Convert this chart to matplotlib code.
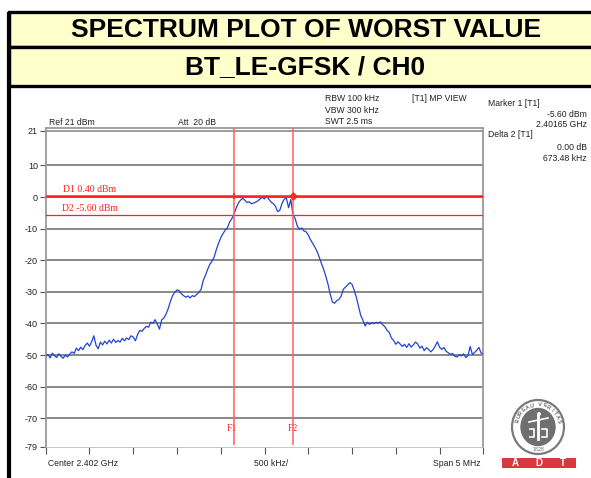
import numpy as np
import matplotlib.pyplot as plt
from matplotlib.patches import Rectangle, Ellipse

plt.rcParams['font.family'] = ['Liberation Sans', 'DejaVu Sans']

W, H = 591, 478

# sweep settings (MHz)
f_start = 2399.5
f_stop = 2404.5
f_center = 2402.0

# max-peak trace, 201 sweep points
level_dbm = [
    -50.3, -49.8, -50.9, -49.4, -50.2, -50.8, -49.6, -50.4, -51.0, -50.0,
    -50.6, -49.7, -49.0, -49.5, -47.8, -48.6, -47.5, -48.3, -47.0, -46.2,
    -47.2, -45.8, -43.9, -46.9, -48.0, -45.9, -46.8, -45.6, -46.5, -45.3,
    -46.2, -45.0, -46.0, -45.4, -45.9, -44.7, -45.5, -44.6, -45.1, -43.9,
    -44.3,
    -45.5, -43.5, -42.2, -42.5, -41.6, -40.9, -41.2, -39.6, -39.9, -38.8,
    -40.2, -41.8, -38.9, -38.3, -37.0, -35.3, -33.0, -31.2, -30.1, -29.4,
    -29.6, -30.6, -31.2, -31.7, -31.3, -31.9, -31.2, -31.5, -30.8, -30.2,
    -29.2, -26.4, -24.8, -22.9, -21.3, -20.3, -19.0, -16.6, -14.6, -12.9,
    -11.6, -10.5, -9.8, -8.0, -6.9, -5.6, -3.6, -2.0, -1.0, -0.4,
    -1.0, -1.7, -1.5, -2.1, -1.9, -1.6, -1.2, -0.6, -0.1, -0.6,
    0.4, -0.7, -1.6, -2.1, -2.9, -4.6, -4.2, -2.0, -0.7, -0.3,
    -3.4, -0.8, -5.6, -6.8, -9.2, -10.2, -9.8, -10.7, -11.0, -12.0,
    -13.5, -14.6, -15.8, -17.2, -19.0, -21.0, -22.8, -25.0, -27.5, -30.6,
    -33.2, -33.6, -32.8, -32.4, -31.4, -29.2, -28.5, -27.8, -27.1, -27.6,
    -29.5, -31.8, -34.6, -37.5, -39.0, -40.8, -39.6, -40.3, -39.7, -40.1,
    -39.6, -39.9, -39.5, -40.4, -41.0, -42.2, -42.8, -44.6, -45.4, -46.6,
    -45.8, -46.5, -47.3, -46.6, -47.6, -46.4, -47.5, -46.8, -45.9, -46.5,
    -47.8, -47.2, -48.6, -47.7, -48.2, -49.0, -48.3, -47.2, -45.8, -47.5,
    -48.2, -47.6, -48.8, -49.3, -49.8, -49.5, -50.4, -50.6, -49.9, -50.3,
    -49.6, -50.8, -50.2, -47.3, -49.8, -49.2, -48.5, -47.6, -49.4, -49.6,
]
freq = np.linspace(f_start, f_stop, len(level_dbm))

d1_level = 0.40
d2_level = -5.60
f1 = 2401.65
delta_khz = 673.48
f2 = f1 + delta_khz / 1000.0

y_ticks = [21, 10, 0, -10, -20, -30, -40, -50, -60, -70, -79]
grid_levels = [10, 0, -10, -20, -30, -40, -50, -60, -70]

title_1 = 'SPECTRUM PLOT OF WORST VALUE'
title_2 = 'BT_LE-GFSK / CH0'

fig = plt.figure(figsize=(W / 100, H / 100), dpi=100)

# page overlay in pixel coordinates
pg = fig.add_axes([0, 0, 1, 1])
pg.set_xlim(0, W)
pg.set_ylim(H, 0)
pg.axis('off')

yellow = '#ffffcc'
pg.add_patch(Rectangle((9, 12), W, 35, facecolor=yellow, edgecolor='black', lw=2.4))
pg.add_patch(Rectangle((9, 47), W, 38.5, facecolor=yellow, edgecolor='black', lw=2.4))
pg.plot([9, 9], [12, H], color='black', lw=3, solid_capstyle='butt')
pg.text(306, 30, title_1, ha='center', va='center', fontsize=19, fontweight='bold')
pg.text(305, 67, title_2, ha='center', va='center', fontsize=19, fontweight='bold')

small = dict(fontsize=6.2, color='#222222', va='center')
pg.text(49, 122.5, 'Ref 21 dBm', ha='left', **small)
pg.text(178, 122.5, 'Att  20 dB', ha='left', **small)
pg.text(65, 138.5, 'Offset 11 dB', ha='left', **small)
pg.text(325, 98.5, 'RBW 100 kHz', ha='left', **small)
pg.text(325, 110, 'VBW 300 kHz', ha='left', **small)
pg.text(325, 121.5, 'SWT 2.5 ms', ha='left', **small)
pg.text(412, 98.5, '[T1] MP VIEW', ha='left', **small)
pg.text(488, 103, 'Marker 1 [T1]', ha='left', **small)
pg.text(587, 114, '%.2f dBm' % d2_level, ha='right', **small)
pg.text(587, 124.5, '%.5f GHz' % (f1 / 1000), ha='right', **small)
pg.text(488, 134.5, 'Delta 2 [T1]', ha='left', **small)
pg.text(587, 147, '0.00 dB', ha='right', **small)
pg.text(587, 158.5, '%.2f kHz' % delta_khz, ha='right', **small)
pg.text(48.5, 463.5, 'Center %.3f GHz' % (f_center / 1000), ha='left', **small)
pg.text(253.5, 463.5, '500 kHz/', ha='left', **small)
pg.text(481, 463.5, 'Span 5 MHz', ha='right', **small)

# logo
cx, cy = 538, 427
pg.add_patch(Ellipse((cx, cy), 52, 54, facecolor='white', edgecolor='#7a7a7a', lw=1.6))
pg.add_patch(Ellipse((cx, cy), 34, 37, facecolor='#6f6f6f', edgecolor='#6f6f6f', lw=1))
pg.plot([cx, cx], [cy - 12, cy + 12], color='white', lw=2)
pg.add_patch(Ellipse((cx + 1, cy - 13), 4, 4, facecolor='white', edgecolor='none'))
pg.plot([cx - 9, cx + 10], [cy - 5, cy - 9], color='white', lw=1.2)
pg.plot([cx - 8, cx - 4, cx - 4, cx - 8], [cy + 2, cy + 2, cy + 10, cy + 10], color='white', lw=1.2)
pg.plot([cx + 4, cx + 9, cx + 9, cx + 4], [cy + 2, cy + 2, cy + 10, cy + 10], color='white', lw=1.2)
ring = 'BUREAU VERITAS'
for i, ch in enumerate(ring):
    a = np.deg2rad(165 - i * 150 / (len(ring) - 1))
    pg.text(cx + 21.5 * np.cos(a), cy - 22.5 * np.sin(a), ch, ha='center', va='center',
            fontsize=4, color='#6f6f6f', fontweight='bold',
            rotation=np.rad2deg(a) - 90)
pg.text(cx, cy + 22.5, '1828', ha='center', va='center', fontsize=3.8, color='#6f6f6f')
pg.add_patch(Rectangle((502, 458.3), 74, 9.4, facecolor='#d63a3f', edgecolor='none'))
for xl, ch in zip([515, 539, 563], 'ADT'):
    pg.text(xl, 463.2, ch, ha='center', va='center', fontsize=7, color='white', fontweight='bold')

# spectrum axes
ax = fig.add_axes([45.7 / W, 1 - 446.7 / H, (483.3 - 45.7) / W, (446.7 - 127.7) / H])
ax.set_xlim(f_start, f_stop)
ax.set_ylim(-79, 21.94)

for g in grid_levels:
    ax.axhline(g, color='#6a6a6a', lw=1.1, zorder=1)
ax.axhline(21, color='#8a8a8a', lw=1.2, zorder=1)

ax.plot(freq, level_dbm, color='#2443d4', lw=0.9, zorder=3)

red = '#ff2020'
ax.axhline(d1_level, color=red, lw=1.8, zorder=4)
ax.axhline(d2_level, color=red, lw=0.9, zorder=4)
ax.vlines([f1, f2], -78.6, 21.94, color='#ff6060', lw=1.1, zorder=4)
ax.plot([f1], [d1_level], marker='|', ms=5, color=red, mew=1.2, zorder=5)
ax.plot([f2], [d1_level], marker='D', ms=3.5, mfc='none', color=red, mew=1.0, zorder=5)
ax.plot([f2], [d1_level], marker='+', ms=5, color=red, mew=0.9, zorder=5)

serif = ['Liberation Serif', 'DejaVu Serif']
ax.text(f_start + 0.2, d1_level + 0.6, 'D1 %.2f dBm' % d1_level, color=red,
        fontsize=7, family=serif, ha='left', va='bottom')
ax.text(f_start + 0.19, d2_level + 0.6, 'D2 %.2f dBm' % d2_level, color=red,
        fontsize=7, family=serif, ha='left', va='bottom')
ax.text(f1 - 0.02, -73.1, 'F1', color=red, fontsize=7, family=serif, ha='center', va='center')
ax.text(f2, -73.1, 'F2', color=red, fontsize=7, family=serif, ha='center', va='center')

ax.set_yticks(y_ticks)
ax.set_yticklabels([str(t) for t in y_ticks])
ax.set_xticks(np.arange(f_start, f_stop + 0.01, 0.5))
ax.set_xticklabels([])
ax.tick_params(axis='y', length=4, width=0.8, color='#555555', labelsize=6.5,
               labelcolor='#222222', pad=1.5)
ax.tick_params(axis='x', length=5, width=0.8, color='#555555')

for side in ['left', 'right', 'top']:
    ax.spines[side].set_color('#9a9a9a')
    ax.spines[side].set_linewidth(1.3)
ax.spines['bottom'].set_color('#bbbbbb')
ax.spines['bottom'].set_linewidth(0.6)

fig.savefig('out.png', dpi=100)
